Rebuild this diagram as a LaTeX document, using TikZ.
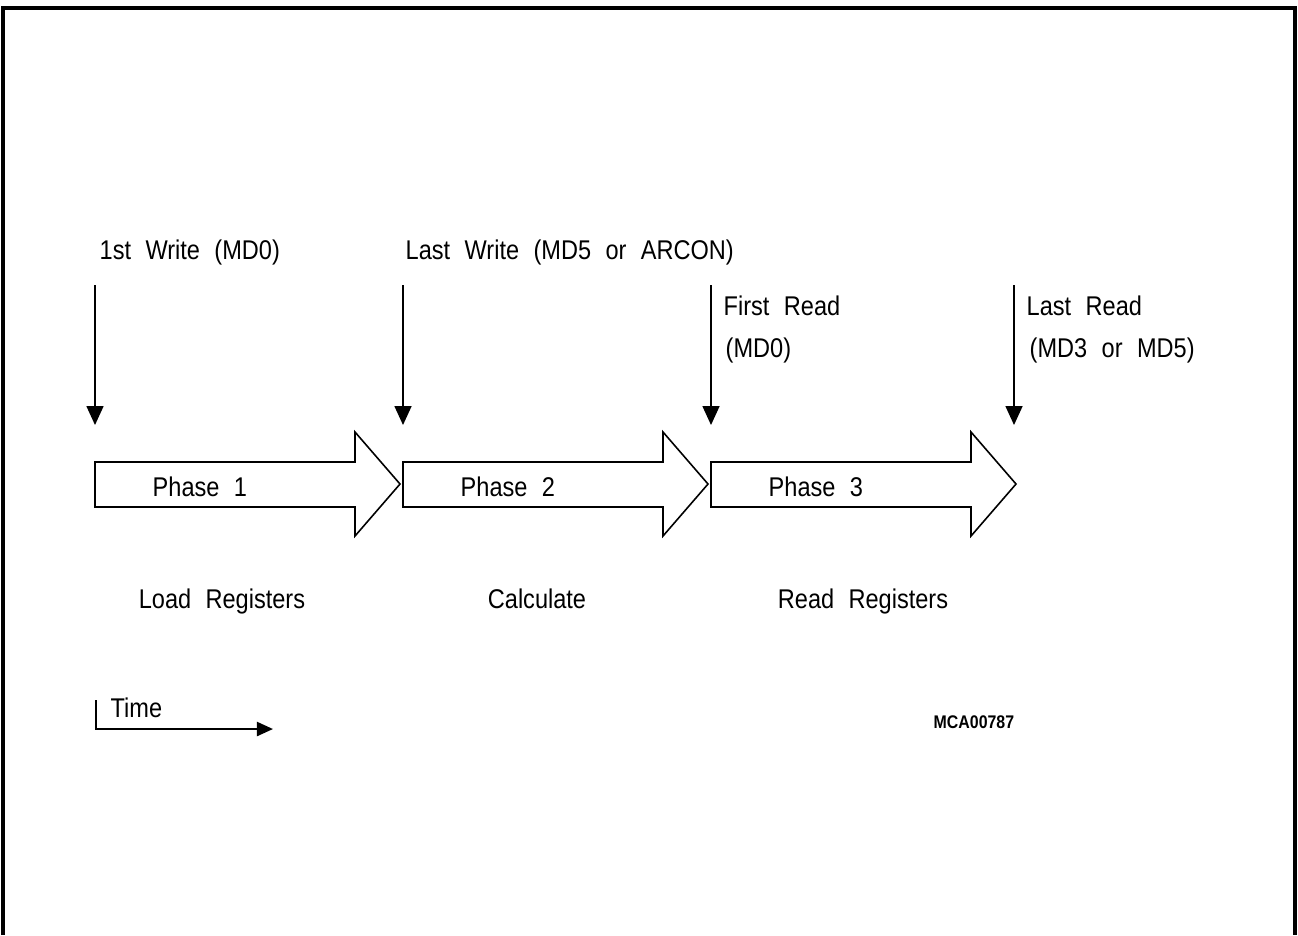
\documentclass[tikz,border=0pt]{standalone}
\usepackage{fontspec}
\setmainfont{Liberation Sans}[FakeStretch=0.87,WordSpace=2.2]
\usetikzlibrary{arrows.meta}
\tikzset{
  % Outer frame, open at the bottom
  frame/.style={line width=0.9pt, line join=miter},
  % Phase: outlined block arrow
  phasearr/.style={draw, line width=0.45pt, line join=miter},
  % Event marker: thin down arrow with filled head
  evtarr/.style={-{Triangle[width=1.7mm,length=1.9mm]}, line width=0.45pt},
  % Time axis
  timearr/.style={-{Triangle[width=1.4mm,length=1.6mm]}, line width=0.6pt},
  % Texts
  lbl/.style={font=\fontsize{7.7}{9}\selectfont, inner sep=0pt, anchor=base west},
  steplbl/.style={lbl, anchor=base},
  figid/.style={font=\bfseries\fontsize{5.2}{6}\selectfont, inner sep=0pt, anchor=base west}
}

\begin{document}
\begin{tikzpicture}[x=0.01cm, y=-0.01cm]
\useasboundingbox (0,0) rectangle (1298,935);

% ============== FRAME ==============
\draw[frame] (3,935) -- (3,8) -- (1295,8) -- (1295,935);

% ============== PHASE ARROWS ==============
\foreach \x/\n in {95/1,403/2,711/3}{
  \draw[phasearr] (\x,462) -- ++(260,0) -- ++(0,-30) -- ++(45,52)
    -- ++(-45,52) -- ++(0,-29) -- (\x,507) -- cycle;
  \node[lbl] (ph\n) at (\x+57,496) {Phase \n};
}

% ============== EVENT MARKERS ==============
\foreach \x/\n in {95/a,403/b,711/c,1014/d}{
  \coordinate (ev\n-t) at (\x,285);
  \coordinate (ev\n-b) at (\x,425);
  \draw[evtarr] (ev\n-t) -- (ev\n-b);
}

\node[lbl] (firstwr) at (99,259) {1st Write (MD0)};
\node[lbl] (lastwr) at (405,259) {Last Write (MD5 or ARCON)};
\node[lbl] (firstrd) at (723,315) {First Read};
\node[lbl] (firstrdb) at (725,357) {(MD0)};
\node[lbl] (lastrd) at (1026,315) {Last Read};
\node[lbl] (lastrdb) at (1029,357) {(MD3 or MD5)};

% ============== PHASE NAMES ==============
\node[steplbl] (load) at (222,608) {Load Registers};
\node[steplbl] (calc) at (537,608) {Calculate};
\node[steplbl] (read) at (863,608) {Read Registers};

% ============== TIME AXIS ==============
\coordinate (t0) at (96,700);
\coordinate (t1) at (96,729);
\coordinate (t2) at (273,729);
\draw[timearr] (t0) -- (t1) -- (t2);
\node[lbl] (time) at (110,717) {Time};

\node[figid] (mca) at (933,728) {MCA00787};

\end{tikzpicture}
\end{document}
